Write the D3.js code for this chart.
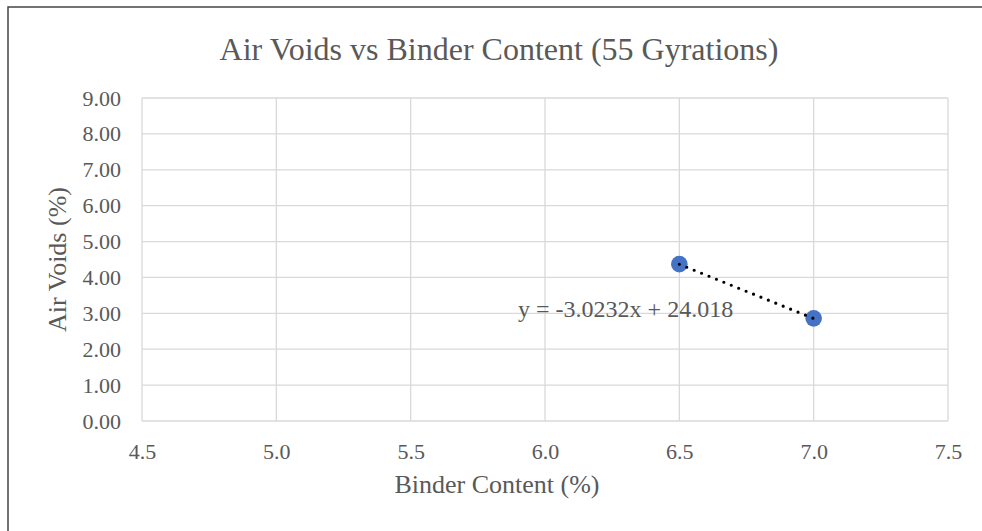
<!DOCTYPE html>
<html>
<head>
<meta charset="utf-8">
<script src="https://cdn.jsdelivr.net/npm/d3@7"></script>
<style>
  body { margin: 0; background: #fff; }
  text { font-family: "Liberation Serif", "Times New Roman", serif; fill: #595959; }
</style>
</head>
<body>
<div id="chart"></div>
<script>
// chart data
var binderContent = [6.5, 7.0];
var airVoids = [4.37, 2.86];
var slope = -3.0232, intercept = 24.018;
var xTicks = [4.5, 5.0, 5.5, 6.0, 6.5, 7.0, 7.5];
var yTicks = [0, 1, 2, 3, 4, 5, 6, 7, 8, 9];
var chartTitle = "Air Voids vs Binder Content (55 Gyrations)";
var xTitle = "Binder Content (%)";
var yTitle = "Air Voids (%)";

var canvas_width = 982, canvas_height = 531;
var plot = {left: 142, right: 948, top: 98, bottom: 421};

var svg = d3.select("#chart")
    .append("svg")
    .attr("width", canvas_width)
    .attr("height", canvas_height);

// outer chart border (only top + left visible in the picture)
svg.append("rect")
    .attr("x", 8).attr("y", 7)
    .attr("width", 1000).attr("height", 600)
    .attr("fill", "none")
    .attr("stroke", "#444")
    .attr("stroke-width", 1.5);

var x = d3.scaleLinear().domain([4.5, 7.5]).range([plot.left, plot.right]);
var y = d3.scaleLinear().domain([0, 9]).range([plot.bottom, plot.top]);

// gridlines
svg.append("g")
    .selectAll("line.v")
    .data(xTicks)
    .enter().append("line")
        .attr("x1", function(d) { return x(d); })
        .attr("x2", function(d) { return x(d); })
        .attr("y1", plot.top).attr("y2", plot.bottom)
        .attr("stroke", "#d9d9d9").attr("stroke-width", 1.3);

svg.append("g")
    .selectAll("line.h")
    .data(yTicks)
    .enter().append("line")
        .attr("x1", plot.left).attr("x2", plot.right)
        .attr("y1", function(d) { return y(d); })
        .attr("y2", function(d) { return y(d); })
        .attr("stroke", "#d9d9d9").attr("stroke-width", 1.3);

// axes (labels only)
var xAxis = svg.append("g")
    .attr("transform", "translate(0," + plot.bottom + ")")
    .call(d3.axisBottom(x).tickValues(xTicks).tickFormat(d3.format(".1f")).tickSize(0).tickPadding(22));
xAxis.select(".domain").remove();
xAxis.selectAll("text").style("font-size", "22px").attr("fill", "#595959")
    .style("font-family", '"Liberation Serif", serif');

var yAxis = svg.append("g")
    .attr("transform", "translate(" + plot.left + ",0)")
    .call(d3.axisLeft(y).tickValues(yTicks).tickFormat(d3.format(".2f")).tickSize(0).tickPadding(21));
yAxis.select(".domain").remove();
yAxis.selectAll("text").style("font-size", "22px").attr("fill", "#595959")
    .style("font-family", '"Liberation Serif", serif');

// points
svg.selectAll("circle.pt")
    .data(binderContent)
    .enter().append("circle")
        .attr("cx", function(d) { return x(d); })
        .attr("cy", function(d, i) { return y(airVoids[i]); })
        .attr("r", 8.3)
        .attr("fill", "#4472c4");

// linear trendline, dotted
var x0 = d3.min(binderContent), x1 = d3.max(binderContent);
svg.append("line")
    .attr("x1", x(x0)).attr("y1", y(slope * x0 + intercept))
    .attr("x2", x(x1)).attr("y2", y(slope * x1 + intercept))
    .attr("stroke", "#000")
    .attr("stroke-width", 3.2)
    .attr("stroke-linecap", "round")
    .attr("stroke-dasharray", "0 8");

// equation label
svg.append("text")
    .attr("x", x(6.3)).attr("y", y(2.9))
    .attr("text-anchor", "middle")
    .style("font-size", "24px")
    .text("y = " + slope + "x + " + intercept);

// titles
svg.append("text")
    .attr("x", 499).attr("y", 60)
    .attr("text-anchor", "middle")
    .style("font-size", "32px")
    .text(chartTitle);

svg.append("text")
    .attr("x", 497).attr("y", 493)
    .attr("text-anchor", "middle")
    .style("font-size", "26px")
    .text(xTitle);

svg.append("text")
    .attr("transform", "translate(66," + ((plot.top + plot.bottom) / 2) + ") rotate(-90)")
    .attr("text-anchor", "middle")
    .style("font-size", "26px")
    .text(yTitle);
</script>
</body>
</html>
